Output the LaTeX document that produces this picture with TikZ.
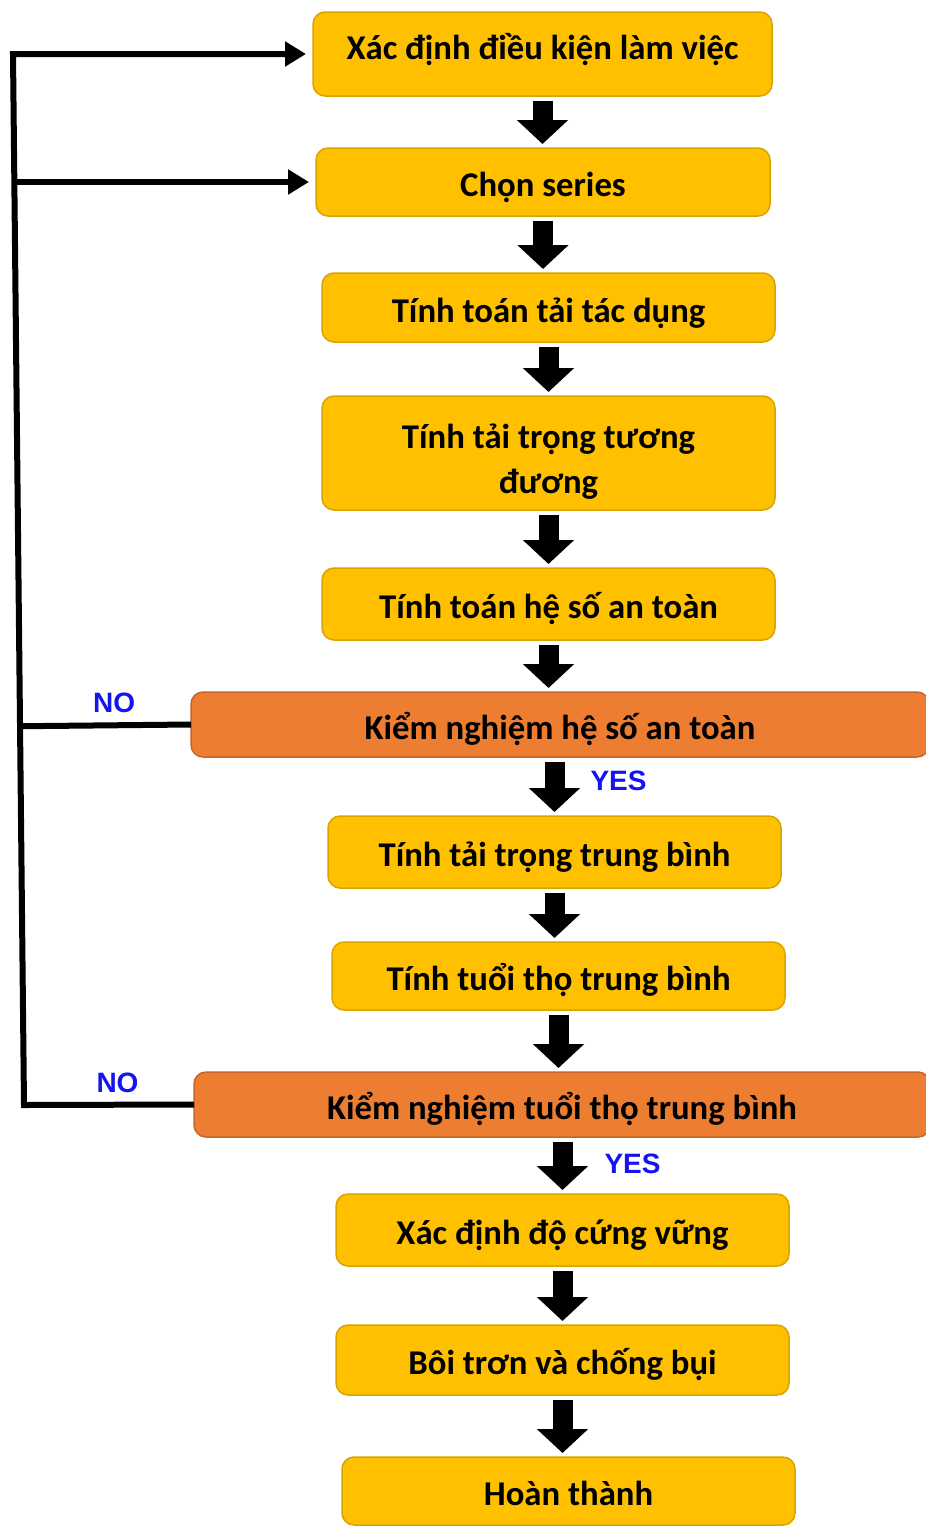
\documentclass[tikz,border=0pt]{standalone}
\usepackage{fontspec}
\setmainfont{Carlito}
\newfontfamily\labelfont{Liberation Sans}
\usetikzlibrary{calc,arrows.meta}
\definecolor{boxyellow}{HTML}{FFC000}
\definecolor{boxyellowline}{HTML}{D9A400}
\definecolor{boxorange}{HTML}{ED7D31}
\definecolor{boxorangeline}{HTML}{C8652A}
\definecolor{labelblue}{HTML}{1414F0}
\tikzset{
  stepbox/.style={draw=boxyellowline,fill=boxyellow,line width=1.5pt,rounded corners=12pt,
    minimum width=453pt,outer sep=0pt,inner sep=0pt,align=center,
    text height=33pt,text depth=4pt,
    font=\bfseries\fontsize{34.7}{45}\selectfont},
  checkbox/.style={stepbox,draw=boxorangeline,fill=boxorange,minimum width=738pt},
  bigarrow/.style={line width=20pt,-{Triangle[length=24pt,width=50pt]},shorten <=5pt,shorten >=4pt},
  loopline/.style={line width=6pt,line join=miter},
  loopto/.style={loopline,-{Triangle[length=21pt,width=24pt]},shorten >=7pt},
  answer/.style={text=labelblue,inner sep=2pt,outer sep=0pt,font=\labelfont\bfseries\fontsize{28}{30}\selectfont}
}

\begin{document}
\begin{tikzpicture}[x=1pt,y=-1pt]
\useasboundingbox (0,0) rectangle (926,1531);
\clip (0,0) rectangle (926,1531);
\node (start)     [stepbox,minimum width=459pt,minimum height=84pt,text depth=22pt] at (542.5,54) {Xác định điều kiện làm việc};
\node (series)    [stepbox,minimum width=454pt,minimum height=68pt] at (543,182)   {Chọn series};
\node (load)      [stepbox,minimum height=69pt]  at (548.5,307.5) {Tính toán tải tác dụng};
\node (eqload)    [stepbox,minimum height=114pt,text height=,text depth=] at (548.5,453) {\rule{0pt}{1.18em}Tính tải trọng tương\\đương};
\node (safety)    [stepbox,minimum height=72pt]  at (548.5,604)   {Tính toán hệ số an toàn};
\node (chksafety) [checkbox,minimum height=65pt] at (560,724.5)   {Kiểm nghiệm hệ số an toàn};
\node (avgload)   [stepbox,minimum height=72pt]  at (554.5,852)   {Tính tải trọng trung bình};
\node (life)      [stepbox,minimum height=68pt]  at (558.5,976)   {Tính tuổi thọ trung bình};
\node (chklife)   [checkbox,minimum width=736pt,minimum height=65pt] at (562,1104.5) {Kiểm nghiệm tuổi thọ trung bình};
\node (stiff)     [stepbox,minimum height=72pt]  at (562.5,1230)  {Xác định độ cứng vững};
\node (lube)      [stepbox,minimum height=70pt]  at (562.5,1360)  {Bôi trơn và chống bụi};
\node (done)      [stepbox,minimum height=68pt]  at (568.5,1491)  {Hoàn thành};

% down arrows
\draw[bigarrow] (start.south) -- (start.south |- series.north);
\draw[bigarrow] (series.south) -- (series.south |- load.north);
\draw[bigarrow] (load.south) -- (load.south |- eqload.north);
\draw[bigarrow] (eqload.south) -- (eqload.south |- safety.north);
\draw[bigarrow] (safety.south) -- (safety.south |- chksafety.north);
\draw[bigarrow] (chksafety.south -| avgload.north) -- (avgload.north) node[answer,pos=0.4,right=34pt] (yes1) {YES};
\draw[bigarrow] (avgload.south) -- (avgload.south |- life.north);
\draw[bigarrow] (life.south) -- (life.south |- chklife.north);
\draw[bigarrow] (chklife.south -| stiff.north) -- (stiff.north) node[answer,pos=0.47,right=40pt] (yes2) {YES};
\draw[bigarrow] (stiff.south) -- (stiff.south |- lube.north);
\draw[bigarrow] (lube.south) -- (lube.south |- done.north);

% loop back on NO
\coordinate (fbtop) at (13,54);
\coordinate (fbbot) at (24,1105);
\draw[loopto] (chklife.west) -- node[answer,pos=0.45,above=10pt] (no2) {NO} (fbbot) -- (fbtop) -- (start.west);
\draw[loopto] (fbtop |- series.west) -- (series.west);
\draw[loopline] (chksafety.west) -- node[answer,pos=0.45,above=11pt] (no1) {NO} ($(fbtop)!(chksafety.west)!(fbbot)$);
\end{tikzpicture}
\end{document}
